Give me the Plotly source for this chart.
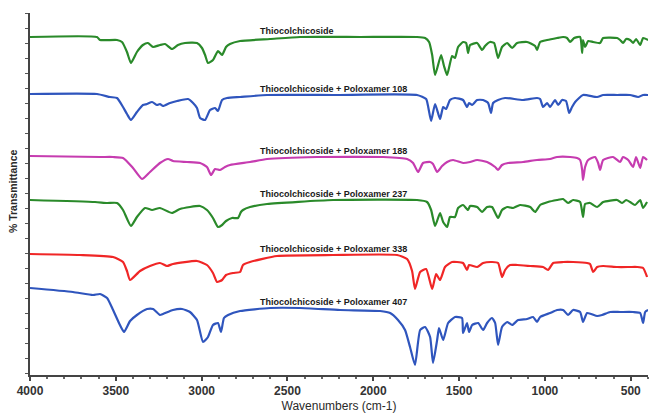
import plotly.graph_objects as go

# FTIR spectra of thiocolchicoside and its poloxamer mixtures (stacked, arbitrary %T units)

samples = [
    "Thiocolchicoside",
    "Thiocolchicoside + Poloxamer 108",
    "Thiocolchicoside + Poloxamer 188",
    "Thiocolchicoside + Poloxamer 237",
    "Thiocolchicoside + Poloxamer 338",
    "Thiocolchicoside + Poloxamer 407",
]

tcs_wn = [4000, 3610, 3592, 3493, 3464, 3435, 3412, 3377, 3342, 3313, 3283, 3243, 3213, 3173, 3138,
          3097, 3027, 2998, 2980, 2963, 2934, 2905, 2881, 2858, 2835, 2776, 2602, 2427, 2077, 1745,
          1698, 1675, 1657, 1640, 1605, 1588, 1570, 1541, 1524, 1506, 1477, 1459, 1448, 1436, 1395,
          1366, 1349, 1320, 1296, 1273, 1250, 1220, 1191, 1162, 1104, 1057, 1046, 1028, 987, 929,
          894, 871, 853, 830, 795, 783, 778, 766, 748, 719, 679, 661, 579, 562, 545, 527, 504, 486,
          469, 445, 428, 399]
tcs_t = [338, 338, 335, 335, 333, 323, 312, 323, 330, 332, 328, 330, 331, 326, 330,
         332, 332, 327, 320, 312, 315, 324, 320, 328, 331, 334, 336, 338, 338, 338,
         337, 333, 320, 300, 320, 309, 300, 319, 317, 328, 333, 332, 322, 330, 332,
         325, 329, 333, 332, 317, 328, 332, 327, 332, 333, 329, 325, 333, 335, 337,
         338, 337, 333, 337, 338, 322, 335, 328, 334, 333, 332, 337, 337, 335, 332, 336, 335, 332,
         336, 330, 337, 335]

p108_wn = [4000, 3610, 3534, 3493, 3458, 3435, 3412, 3377, 3342, 3318, 3289, 3260, 3243, 3225, 3184,
           3143, 3079, 3050, 3027, 3009, 2980, 2951, 2922, 2905, 2881, 2852, 2776, 2619, 2234, 1745,
           1692, 1681, 1663, 1640, 1611, 1593, 1576, 1553, 1524, 1477, 1454, 1442, 1424, 1395, 1360,
           1331, 1314, 1302, 1273, 1232, 1127, 1046, 1028, 1011, 987, 970, 941, 923, 900, 877, 859,
           842, 824, 778, 696, 661, 579, 504, 457, 428, 399]
p108_t = [281, 281, 278, 277, 268, 261, 255, 263, 270, 271, 273, 270, 271, 269, 272,
          274, 276, 272, 267, 257, 255, 265, 267, 264, 275, 277, 278, 280, 280, 280,
          276, 269, 254, 271, 256, 268, 266, 275, 277, 275, 268, 272, 270, 275, 275,
          272, 262, 272, 275, 277, 275, 277, 276, 268, 272, 268, 275, 270, 275, 274, 262,
          268, 273, 280, 278, 280, 280, 280, 278, 280, 280]

p188_wn = [4000, 3592, 3516, 3458, 3400, 3347, 3301, 3243, 3196, 3167, 3085, 3009, 2969, 2945, 2922,
           2893, 2864, 2835, 2718, 2619, 2328, 1943, 1803, 1768, 1739, 1710, 1669, 1652, 1628, 1599,
           1570, 1535, 1477, 1436, 1395, 1337, 1290, 1273, 1250, 1215, 1127, 1046, 970, 929, 853,
           813, 795, 783, 778, 766, 748, 708, 690, 679, 661, 603, 562, 545, 515, 486, 469, 445, 428,
           405]
p188_t = [219, 218, 218, 217, 207, 196, 203, 212, 216, 214, 213, 212, 208, 200, 206,
          205, 208, 210, 213, 216, 218, 218, 216, 212, 203, 212, 213, 211, 203, 209,
          213, 215, 212, 213, 215, 213, 208, 205, 210, 212, 213, 215, 216, 218, 218,
          217, 215, 205, 195, 208, 215, 218, 212, 205, 215, 218, 213, 218, 215, 208, 218, 207, 218,
          215]

p237_wn = [4000, 3621, 3551, 3493, 3458, 3412, 3377, 3330, 3289, 3243, 3173, 3126, 3009, 2969, 2934,
           2905, 2881, 2858, 2823, 2788, 2771, 2759, 2718, 2619, 2234, 1745, 1687, 1663, 1640, 1611,
           1593, 1570, 1553, 1524, 1506, 1477, 1448, 1436, 1395, 1366, 1337, 1308, 1273, 1250, 1220,
           1185, 1145, 1086, 1057, 1028, 982, 929, 894, 865, 836, 795, 778, 766, 737, 696, 661, 579,
           550, 527, 504, 475, 445, 428, 405]
p237_t = [175, 173, 172, 172, 165, 149, 158, 167, 165, 167, 162, 166, 169, 165, 157,
          148, 150, 154, 157, 157, 163, 165, 168, 171, 175, 175, 173, 165, 149, 162,
          153, 148, 158, 158, 167, 170, 165, 169, 168, 163, 168, 168, 157, 165, 168,
          167, 170, 168, 163, 170, 173, 175, 176, 172, 175, 173, 158, 171, 172, 168, 173, 175,
          172, 175, 173, 170, 175, 167, 173]

p338_wn = [4000, 3709, 3516, 3458, 3435, 3417, 3359, 3301, 3243, 3202, 3167, 3027, 2969, 2934, 2910,
           2881, 2858, 2817, 2776, 2759, 2718, 2561, 2234, 1861, 1803, 1774, 1757, 1727, 1692, 1657,
           1634, 1611, 1582, 1541, 1512, 1477, 1454, 1442, 1395, 1360, 1308, 1273, 1250, 1232, 1203,
           1162, 1086, 1011, 982, 952, 894, 836, 754, 737, 719, 696, 661, 579, 504, 463, 428, 405]
p338_t = [121, 120, 118, 113, 104, 95, 104, 109, 112, 109, 111, 114, 110, 102, 93,
          95, 100, 102, 103, 110, 113, 119, 120, 120, 116, 104, 86, 103, 106, 86,
          101, 95, 108, 113, 113, 112, 105, 110, 108, 112, 113, 112, 98, 105, 110,
          110, 109, 108, 105, 112, 113, 113, 112, 111, 103, 108, 109, 108, 108, 108, 107, 98]

p407_wn = [4000, 3750, 3633, 3592, 3551, 3516, 3476, 3452, 3417, 3377, 3318, 3283, 3243, 3225, 3167,
           3114, 3068, 3027, 2992, 2963, 2934, 2905, 2887, 2870, 2846, 2776, 2602, 2427, 2194, 1960,
           1902, 1856, 1815, 1786, 1757, 1727, 1698, 1669, 1652, 1628, 1617, 1593, 1564, 1524, 1483,
           1477, 1454, 1442, 1424, 1389, 1360, 1337, 1308, 1290, 1273, 1250, 1220, 1191, 1156, 1104,
           1069, 1046, 1028, 970, 929, 894, 865, 836, 795, 778, 754, 696, 667, 620, 562, 486, 445,
           428, 416, 399]
p407_t = [87, 83, 80, 81, 77, 65, 50, 43, 54, 60, 66, 66, 60, 61, 65,
          66, 63, 55, 33, 38, 50, 52, 43, 57, 60, 64, 67, 67, 65, 64,
          62, 55, 45, 28, 10, 45, 48, 38, 12, 35, 47, 35, 52, 58, 57,
          42, 52, 43, 50, 52, 45, 52, 57, 52, 30, 48, 53, 50, 55, 56,
          58, 53, 58, 62, 65, 65, 60, 65, 63, 53, 62, 59, 60, 63, 63, 63, 62,
          52, 63, 65]

spectra = [
    (tcs_wn, tcs_t),
    (p108_wn, p108_t),
    (p188_wn, p188_t),
    (p237_wn, p237_t),
    (p338_wn, p338_t),
    (p407_wn, p407_t),
]
colors = ["#2a8a2a", "#2f55bd", "#c63cb0", "#2a8a2a", "#f02626", "#2f55bd"]

x_ticks = [4000, 3500, 3000, 2500, 2000, 1500, 1000, 500]

fig = go.Figure()
for name, (wn, t), col in zip(samples, spectra, colors):
    fig.add_trace(go.Scatter(x=wn, y=t, mode="lines", name=name,
                             line=dict(color=col, width=2.2, shape="spline", smoothing=0.5),
                             showlegend=False))

# sample names sit just above the flat 2700-1850 cm-1 stretch of each spectrum
label_x = 2671
for name, (wn, t) in zip(samples, spectra):
    plateau = max(v for w, v in zip(wn, t) if 1850 <= w <= 2700)
    fig.add_annotation(x=label_x, y=plateau + 6, text=name, showarrow=False,
                       xanchor="left", yanchor="middle",
                       font=dict(family="Arial", size=9, color="#1a1a1a", weight="bold"))

fig.add_annotation(xref="paper", yref="paper", x=-0.0275, y=0.508, text="% Transmittance",
                   showarrow=False, textangle=-90, xanchor="center", yanchor="middle",
                   font=dict(family="Arial", size=10.5, color="#2a2a2a", weight="bold"))

fig.update_layout(
    width=649, height=413,
    margin=dict(l=30, r=1, t=13, b=38),
    paper_bgcolor="white", plot_bgcolor="white",
    xaxis=dict(range=[4000, 399.5], tickvals=x_ticks, ticks="outside", ticklen=4, tickwidth=1.5,
               tickcolor="#444", showgrid=False, zeroline=False, showline=True,
               linecolor="#444", linewidth=2,
               minor=dict(dtick=100, ticks="outside", ticklen=2, tickcolor="#666"),
               tickfont=dict(family="Arial", size=12, color="#333", weight="bold"),
               title=dict(text="Wavenumbers (cm-1)", standoff=4,
                          font=dict(family="Arial", size=12, color="#2a2a2a"))),
    yaxis=dict(range=[0, 362], showticklabels=False, ticks="outside", ticklen=3,
               tick0=2, dtick=15, tickcolor="#555", showgrid=False, zeroline=False,
               showline=True, linecolor="#444", linewidth=2),
)

fig.write_html("out.html")
